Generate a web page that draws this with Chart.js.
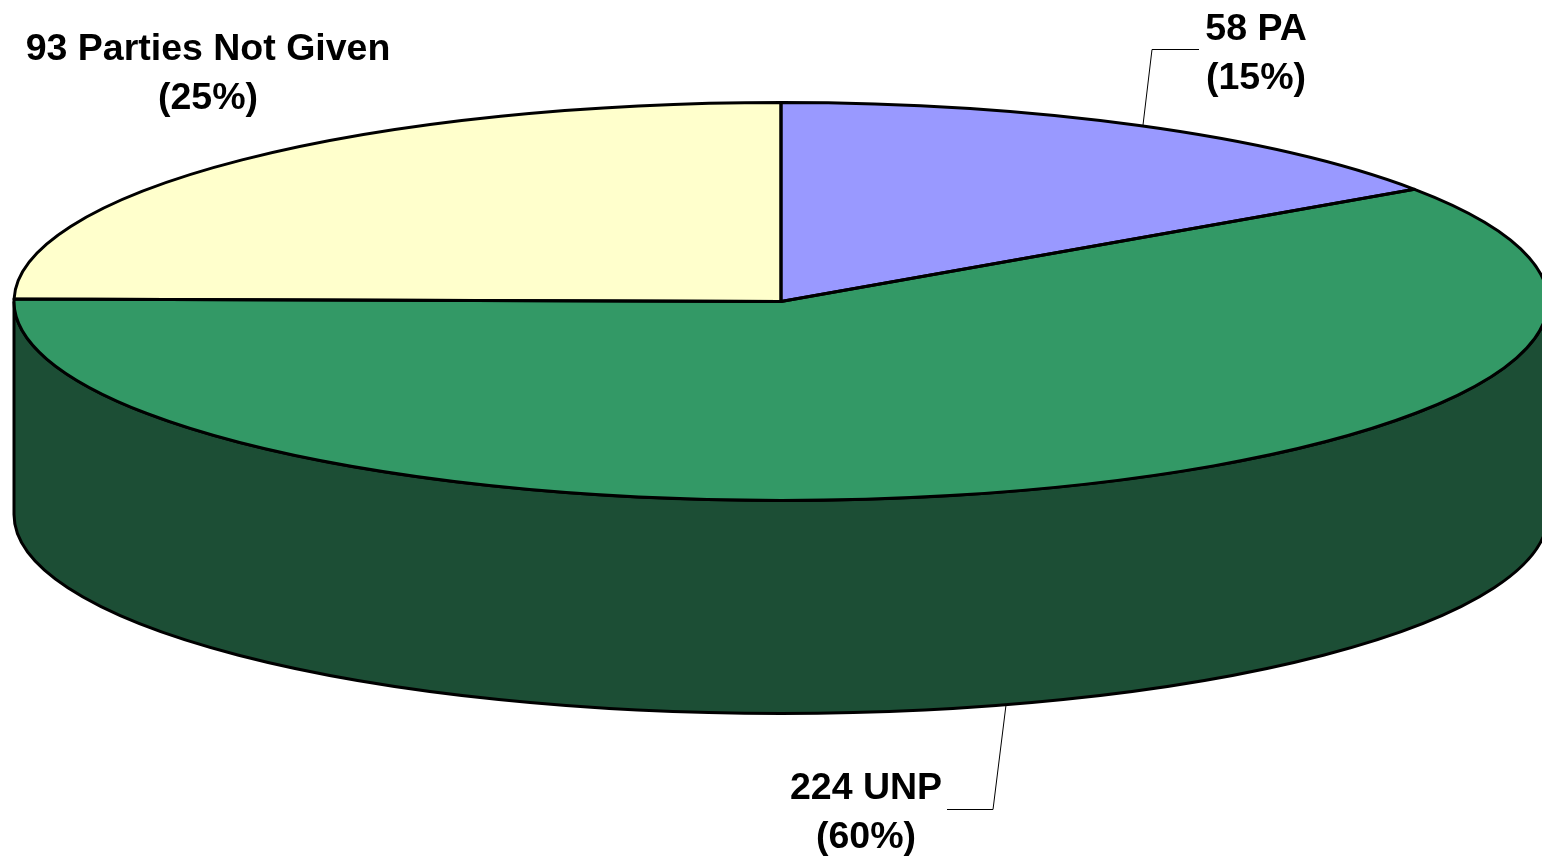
<!DOCTYPE html>
<html><head><meta charset="utf-8">
<script src="https://cdn.jsdelivr.net/npm/chart.js@4"></script>
<style>html,body{margin:0;padding:0;background:#fff;overflow:hidden}canvas{display:block}</style>
</head><body><canvas id="c" width="1542" height="856"></canvas>
<script>
const categories = ['PA', 'UNP', 'Parties Not Given'];
const counts = [58, 224, 93];
const topColors = ['#9999FF', '#339966', '#FFFFCC'];
const wallColors = ['#4D4D80', '#1C4E35', '#808066'];
const labelLines = [['58 PA', '(15%)'], ['224 UNP', '(60%)'], ['93 Parties Not Given', '(25%)']];

const CX = 781, CY = 301.5, RX = 767, RY = 199, DEPTH = 213;
const labelPos = [[1256, 40], [866, 799], [208, 60]];
const leaders = [[[1143,125],[1152,49.5],[1199,49.5]], [[1006,705],[993,809.5],[947,809.5]], null];

const pie3d = {
  id: 'pie3d',
  beforeDatasetsDraw(chart) {
    const ctx = chart.ctx;
    const arcs = chart.getDatasetMeta(0).data;
    ctx.save();
    arcs.forEach((arc, i) => {
      const p = arc.getProps(['startAngle', 'endAngle'], true);
      const a0 = Math.max(p.startAngle, 0), a1 = Math.min(p.endAngle, Math.PI);
      if (a1 <= a0) return;
      ctx.beginPath();
      ctx.ellipse(CX, CY, RX, RY, 0, a0, a1);
      ctx.ellipse(CX, CY + DEPTH, RX, RY, 0, a1, a0, true);
      ctx.closePath();
      ctx.fillStyle = wallColors[i];
      ctx.fill();
      ctx.lineWidth = 3;
      ctx.strokeStyle = '#000';
      ctx.stroke();
    });
    ctx.restore();
    const f = arcs[0];
    const r = f.outerRadius;
    ctx.save();
    ctx.translate(CX, CY);
    ctx.scale(RX / r, RY / r);
    ctx.translate(-f.x, -f.y);
  },
  afterDatasetsDraw(chart) {
    const ctx = chart.ctx;
    ctx.restore();
    const arcs = chart.getDatasetMeta(0).data;
    ctx.save();
    ctx.lineWidth = 3;
    ctx.strokeStyle = '#000';
    ctx.lineJoin = 'round';
    arcs.forEach((arc) => {
      const p = arc.getProps(['startAngle', 'endAngle'], true);
      ctx.beginPath();
      ctx.moveTo(CX, CY);
      ctx.ellipse(CX, CY, RX, RY, 0, p.startAngle, p.endAngle);
      ctx.closePath();
      ctx.stroke();
    });
    ctx.lineWidth = 1;
    ctx.strokeStyle = '#000';
    leaders.forEach(l => {
      if (!l) return;
      ctx.beginPath();
      l.forEach((pt, k) => k ? ctx.lineTo(pt[0], pt[1]) : ctx.moveTo(pt[0], pt[1]));
      ctx.stroke();
    });
    ctx.fillStyle = '#000';
    ctx.font = 'bold 37.5px "Liberation Sans", Arial, sans-serif';
    ctx.textAlign = 'center';
    ctx.textBaseline = 'alphabetic';
    labelLines.forEach((lines, i) => {
      lines.forEach((t, k) => ctx.fillText(t, labelPos[i][0], labelPos[i][1] + k * 48.5));
    });
    ctx.restore();
  }
};

new Chart(document.getElementById('c'), {
  type: 'pie',
  data: {
    labels: categories,
    datasets: [{ data: counts, backgroundColor: topColors, borderWidth: 0, clip: false }]
  },
  options: {
    responsive: false,
    animation: false,
    layout: { padding: 0 },
    plugins: { legend: { display: false }, tooltip: { enabled: false }, title: { display: false } }
  },
  plugins: [pie3d]
});
</script></body></html>
